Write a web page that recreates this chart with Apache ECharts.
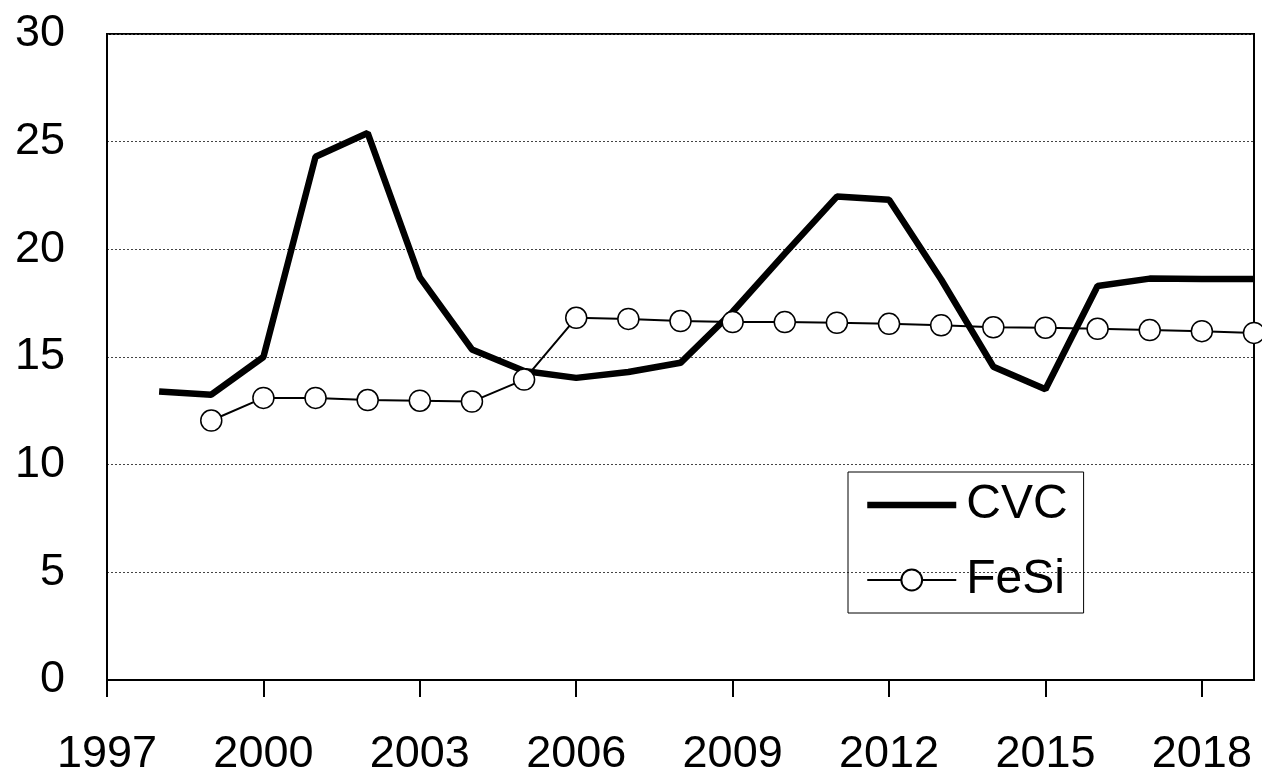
<!DOCTYPE html>
<html>
<head>
<meta charset="utf-8">
<script src="https://cdn.jsdelivr.net/npm/echarts@6/dist/echarts.min.js"></script>
<style>
  html, body { margin: 0; padding: 0; background: #fff; }
  #chart { width: 1262px; height: 777px; }
</style>
</head>
<body>
<div id="chart"></div>
<script>
// data
const cvcYears = [1998, 1999, 2000, 2001, 2002, 2003, 2004, 2005, 2006, 2007, 2008,
  2009, 2010, 2011, 2012, 2013, 2014, 2015, 2016, 2017, 2018, 2019];
const cvcValues = [13.4, 13.25, 15.0, 24.3, 25.4, 18.7, 15.35, 14.35, 14.03, 14.3, 14.73,
  17.1, 19.8, 22.45, 22.3, 18.6, 14.55, 13.5, 18.3, 18.64, 18.62, 18.62];

const fesiYears = [1999, 2000, 2001, 2002, 2003, 2004, 2005, 2006, 2007, 2008, 2009,
  2010, 2011, 2012, 2013, 2014, 2015, 2016, 2017, 2018, 2019];
const fesiValues = [12.05, 13.1, 13.1, 13.0, 12.97, 12.93, 13.95, 16.82, 16.77, 16.67, 16.62,
  16.62, 16.59, 16.54, 16.47, 16.38, 16.36, 16.31, 16.25, 16.2, 16.12];

const seriesNames = ['CVC', 'FeSi'];

const pairs = (xs, ys) => xs.map((x, i) => [x, ys[i]]);

const font = '"Liberation Sans", Arial, sans-serif';

const chart = echarts.init(document.getElementById('chart'));

chart.setOption({
  animation: false,
  backgroundColor: '#fff',
  textStyle: { fontFamily: font },
  grid: {
    left: 107, right: 8, top: 34, bottom: 97,
    show: true, borderColor: '#000', borderWidth: 2
  },
  legend: {
    orient: 'vertical',
    left: 848, top: 472,
    padding: [9, 16, 9, 16],
    itemWidth: 89, itemHeight: 26, itemGap: 27,
    borderColor: '#000', borderWidth: 1,
    lineStyle: { width: 'inherit' },
    textStyle: { fontSize: 48, color: '#000', fontFamily: font, padding: [0, 0, 0, 5] },
    data: [
      { name: seriesNames[0], itemStyle: { color: 'transparent', borderWidth: 0 } },
      { name: seriesNames[1] }
    ]
  },
  xAxis: {
    type: 'value',
    min: 1997, max: 2019, interval: 3,
    axisLine: { lineStyle: { color: '#000', width: 2 } },
    axisTick: { show: true, length: 17, lineStyle: { color: '#000', width: 2 } },
    axisLabel: {
      fontSize: 45, color: '#000', margin: 52, showMaxLabel: false,
      formatter: v => String(v)
    },
    splitLine: { show: false }
  },
  yAxis: {
    type: 'value',
    min: 0, max: 30, interval: 5,
    axisLine: { show: true, lineStyle: { color: '#000', width: 2 } },
    axisTick: { show: false },
    axisLabel: { fontSize: 45, color: '#000', margin: 42 },
    splitLine: { show: true, lineStyle: { color: '#444', width: 1, type: [2, 2] } }
  },
  series: [
    {
      name: seriesNames[0],
      type: 'line',
      data: pairs(cvcYears, cvcValues),
      symbol: 'none',
      lineStyle: { color: '#000', width: 6.5 },
      itemStyle: { color: '#000' },
      z: 3
    },
    {
      name: seriesNames[1],
      type: 'line',
      data: pairs(fesiYears, fesiValues),
      symbol: 'circle',
      symbolSize: 21,
      showAllSymbol: true,
      lineStyle: { color: '#000', width: 2 },
      itemStyle: { color: '#fff', borderColor: '#000', borderWidth: 1.5 },
      z: 4
    }
  ]
});
</script>
</body>
</html>
